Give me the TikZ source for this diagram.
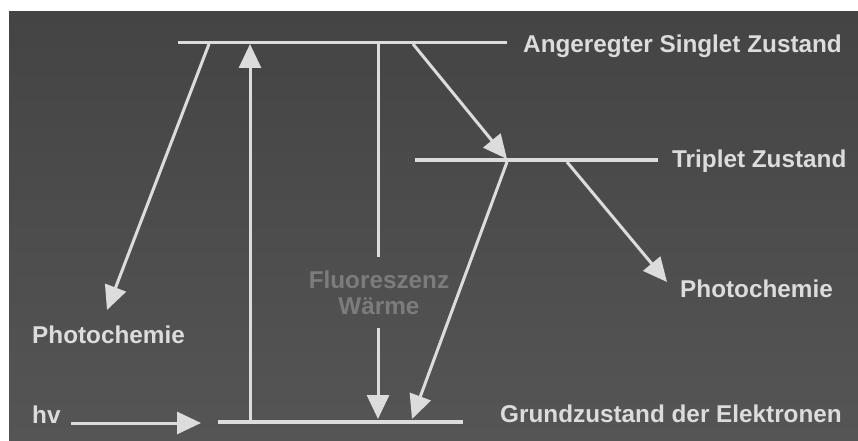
\documentclass[tikz,border=0pt]{standalone}
\usepackage{fontspec}
\setmainfont{Liberation Sans}
\usetikzlibrary{arrows.meta}
\definecolor{bgtop}{HTML}{444444}
\definecolor{bgbot}{HTML}{555555}
\definecolor{fg}{HTML}{DCDCDC}
\definecolor{muted}{HTML}{7C7C7C}
\tikzset{
  level/.style={draw=fg, line width=3.5pt},
  trans/.style={draw=fg, line width=3pt, -{Triangle[length=24pt,width=22pt]}},
  plain/.style={draw=fg, line width=3pt},
  lbl/.style={text=fg, font=\fontsize{24.3}{27}\selectfont\bfseries, inner sep=0pt, anchor=base west},
  mlbl/.style={text=muted, font=\fontsize{24.3}{27}\selectfont\bfseries, inner sep=0pt, anchor=base},
}
\begin{document}
\begin{tikzpicture}[x=1pt,y=-1pt]
\useasboundingbox (0,0) rectangle (858,441);
\fill[white] (0,0) rectangle (858,441);
\shade[top color=bgtop, bottom color=bgbot] (9,12) rectangle (858,441);
% levels
\coordinate (S1) at (178,42.5);
\coordinate (S2) at (507,42.5);
\coordinate (T1) at (415,160);
\coordinate (T2) at (658,160);
\coordinate (G1) at (218,422);
\coordinate (G2) at (463,422);
\draw[level] (S1) -- (S2);
\draw[level] (T1) -- (T2);
\draw[level] (G1) -- (G2);
% labels
\node[lbl] (ls) at (523,53) {Angeregter Singlet Zustand};
\node[lbl] (lt) at (672,167) {Triplet Zustand};
\node[lbl] (lg) at (500,422) {Grundzustand der Elektronen};
\node[lbl] (pr) at (680,297) {Photochemie};
\node[lbl] (pl) at (32,343) {Photochemie};
\node[lbl] (hv) at (32,423) {hv};
\node[mlbl] (fl) at (379,288) {Fluoreszenz};
\node[mlbl] (wa) at (379,314) {Wärme};
% connector end points
\coordinate (a1) at (209,44);
\coordinate (a2) at (107,310);
\coordinate (u1) at (250,421);
\coordinate (u2) at (250,44);
\coordinate (f1) at (378,44);
\coordinate (f2) at (378,257);
\coordinate (f3) at (378,328);
\coordinate (f4) at (378,419);
\coordinate (st1) at (413,44);
\coordinate (st2) at (507,159);
\coordinate (tg1) at (507,162);
\coordinate (tg2) at (412,419);
\coordinate (tp1) at (567,162);
\coordinate (tp2) at (667,282);
\coordinate (h1) at (71,423);
\coordinate (h2) at (201,423);
% transitions
\draw[trans] (a1) -- (a2);
\draw[trans] (u1) -- (u2);
\draw[plain] (f1) -- (f2);
\draw[trans] (f3) -- (f4);
\draw[trans] (st1) -- (st2);
\draw[trans] (tg1) -- (tg2);
\draw[trans] (tp1) -- (tp2);
\draw[trans] (h1) -- (h2);
\end{tikzpicture}
\end{document}
